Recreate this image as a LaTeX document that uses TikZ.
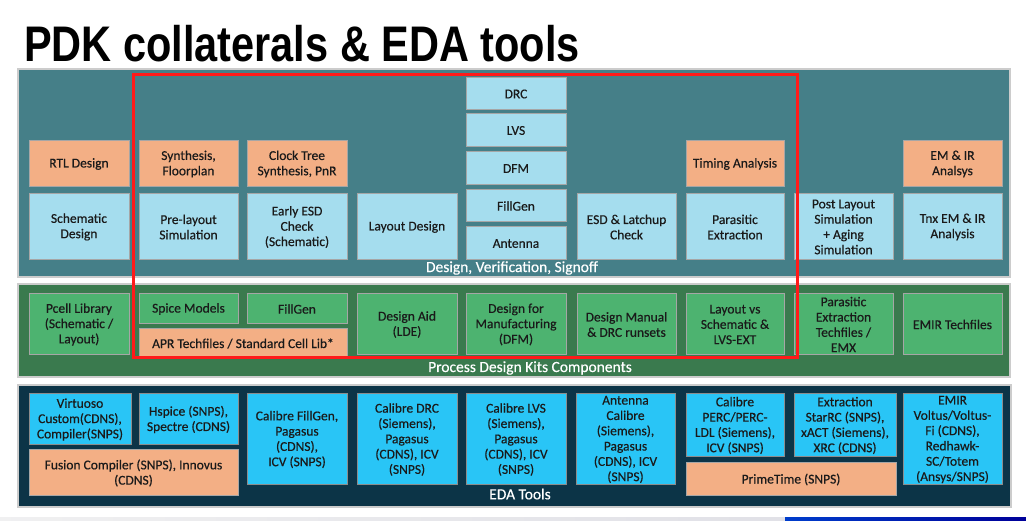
\documentclass[tikz,border=0pt]{standalone}
\usepackage{fontspec}
\setmainfont{Carlito}[FakeBold=0.4]
\newfontfamily\titlefont{Liberation Sans}[FakeStretch=0.83]
\definecolor{teal}{HTML}{457F88}
\definecolor{lblue}{HTML}{A5DDEE}
\definecolor{orng}{HTML}{F3AF85}
\definecolor{gpanel}{HTML}{3A7A4E}
\definecolor{gbox}{HTML}{4DB370}
\definecolor{navy}{HTML}{0C3447}
\definecolor{cyanb}{HTML}{29C5F6}
\definecolor{redr}{HTML}{FF1A1A}
\definecolor{txt}{HTML}{1A1A1A}
\tikzset{
  basebox/.style={rectangle, inner sep=0pt, outer sep=0pt, draw=black!35, line width=0.8pt},
  lb/.style={basebox, fill=lblue},
  og/.style={basebox, fill=orng},
  gb/.style={basebox, fill=gbox},
  cb/.style={basebox, fill=cyanb, draw=black!45},
  panel/.style={rectangle, inner sep=0pt, outer sep=0pt, draw=black!20, line width=1.2pt},
  boxtext/.style={align=center, inner sep=0pt, text=txt, font=\fontsize{13.5}{15.3}\selectfont},
  paneltext/.style={inner sep=0pt, text=white, font=\fontsize{15.5}{17}\selectfont},
}
\newcommand\mkbox[7]{%
  \pgfmathsetmacro\bxw{#5-#3}\pgfmathsetmacro\bxh{#6-#4}%
  \pgfmathsetmacro\bxcx{(#3+#5)/2}\pgfmathsetmacro\bxcy{(#4+#6)/2}%
  \node[#1, minimum width=\bxw pt, minimum height=\bxh pt] (#2) at (\bxcx,\bxcy) {};%
  \node[boxtext] (#2-t) at ([yshift=-1pt]#2.center) {#7};}
\newcommand\mkpanel[6]{%
  \pgfmathsetmacro\bxw{#5-#3}\pgfmathsetmacro\bxh{#6-#4}%
  \pgfmathsetmacro\bxcx{(#3+#5)/2}\pgfmathsetmacro\bxcy{(#4+#6)/2}%
  \node[panel, fill=#1, minimum width=\bxw pt, minimum height=\bxh pt] (#2) at (\bxcx,\bxcy) {};}
\begin{document}
\begin{tikzpicture}[x=1pt,y=-1pt]
\useasboundingbox (0,0) rectangle (1026,521);
\fill[white] (0,0) rectangle (1026,521);
% bottom slide strip
\shade[left color=blue!8!black!6, right color=blue!20!black!12] (0,517) rectangle (785,521);
\shade[left color=blue!70!cyan!80!black, right color=blue!60!black] (785,517) rectangle (1026,521);
% title
\node[anchor=base west, inner sep=0pt, font=\titlefont\bfseries\fontsize{50}{56}\selectfont] (title) at (24,62) {PDK collaterals \& EDA tools};
% panels
\mkpanel{teal}{p1}{18}{69}{1010}{277}
\mkpanel{gpanel}{p2}{18}{284}{1010}{377}
\mkpanel{navy}{p3}{18}{385}{1011}{507}
\node[paneltext] (p1t) at (512,268) {Design, Verification, Signoff};
\node[paneltext] (p2t) at (530,368) {Process Design Kits Components};
\node[paneltext] (p3t) at (520,494) {EDA Tools};
% top row
\mkbox{og}{rtl}{29}{140}{129}{186}{RTL Design}
\mkbox{og}{synth}{139}{140}{238}{186}{Synthesis,\\Floorplan}
\mkbox{og}{cts}{247}{140}{347}{186}{Clock Tree\\Synthesis, PnR}
\mkbox{og}{timing}{686}{140}{784}{186}{Timing Analysis}
\mkbox{og}{emira}{903}{140}{1002}{186}{EM \& IR\\Analsys}
\mkbox{lb}{schem}{29}{193}{129}{259}{Schematic\\Design}
\mkbox{lb}{prelay}{139}{193}{238}{259}{Pre-layout\\Simulation}
\mkbox{lb}{eesd}{247}{193}{347}{259}{Early ESD\\Check\\(Schematic)}
\mkbox{lb}{layout}{357}{193}{457}{259}{Layout Design}
\mkbox{lb}{drc}{466}{77}{566}{109}{DRC}
\mkbox{lb}{lvs}{466}{113}{566}{146}{LVS}
\mkbox{lb}{dfm}{466}{151}{566}{184}{DFM}
\mkbox{lb}{fillgen}{466}{189}{566}{221}{FillGen}
\mkbox{lb}{antenna}{466}{226}{566}{259}{Antenna}
\mkbox{lb}{esdlu}{577}{193}{676}{259}{ESD \& Latchup\\Check}
\mkbox{lb}{parex}{686}{193}{784}{259}{Parasitic\\Extraction}
\mkbox{lb}{postlay}{794}{193}{893}{259}{Post Layout\\Simulation\\+ Aging\\Simulation}
\mkbox{lb}{tnx}{903}{193}{1002}{259}{Tnx EM \& IR\\Analysis}
% middle row
\mkbox{gb}{pcell}{29}{293}{129}{354}{Pcell Library\\(Schematic /\\Layout)}
\mkbox{gb}{spice}{139}{293}{238}{323}{Spice Models}
\mkbox{gb}{fillgenb}{247}{293}{347}{323}{FillGen}
\mkbox{og}{apr}{139}{328}{347}{357}{APR Techfiles / Standard Cell Lib*}
\mkbox{gb}{aid}{357}{293}{457}{354}{Design Aid\\(LDE)}
\mkbox{gb}{dfmb}{466}{293}{566}{354}{Design for\\Manufacturing\\(DFM)}
\mkbox{gb}{dman}{577}{293}{676}{354}{Design Manual\\\& DRC runsets}
\mkbox{gb}{lvsb}{686}{293}{784}{354}{Layout vs\\Schematic \&\\LVS-EXT}
\mkbox{gb}{pex}{794}{293}{893}{354}{Parasitic\\Extraction\\Techfiles /\\EMX}
\mkbox{gb}{emirtf}{903}{293}{1002}{354}{EMIR Techfiles}
% bottom row
\mkbox{cb}{virt}{29}{393}{131}{444}{Virtuoso\\Custom(CDNS),\\Compiler(SNPS)}
\mkbox{cb}{hsp}{139}{393}{238}{444}{Hspice (SNPS),\\Spectre (CDNS)}
\mkbox{og}{fusion}{29}{449}{238}{495}{Fusion Compiler (SNPS), Innovus\\(CDNS)}
\mkbox{cb}{cfg}{247}{393}{347}{484}{Calibre FillGen,\\Pagasus\\(CDNS),\\ICV (SNPS)}
\mkbox{cb}{cdrc}{357}{393}{457}{484}{Calibre DRC\\(Siemens),\\Pagasus\\(CDNS), ICV\\(SNPS)}
\mkbox{cb}{clvs}{466}{393}{566}{484}{Calibre LVS\\(Siemens),\\Pagasus\\(CDNS), ICV\\(SNPS)}
\mkbox{cb}{ant}{576}{393}{675}{484}{Antenna\\Calibre\\(Siemens),\\Pagasus\\(CDNS), ICV\\(SNPS)}
\mkbox{cb}{perc}{686}{393}{784}{456}{Calibre\\PERC/PERC-\\LDL (Siemens),\\ICV (SNPS)}
\mkbox{cb}{ext}{794}{393}{896}{456}{Extraction\\StarRC (SNPS),\\xACT (Siemens),\\XRC (CDNS)}
\mkbox{og}{prime}{686}{462}{896}{495}{PrimeTime (SNPS)}
\mkbox{cb}{emirb}{903}{393}{1002}{484}{EMIR\\Voltus/Voltus-\\Fi (CDNS),\\Redhawk-\\SC/Totem\\(Ansys/SNPS)}
% red highlight
\draw[redr, line width=3pt] (133,75) rectangle (797,358);
\end{tikzpicture}
\end{document}
